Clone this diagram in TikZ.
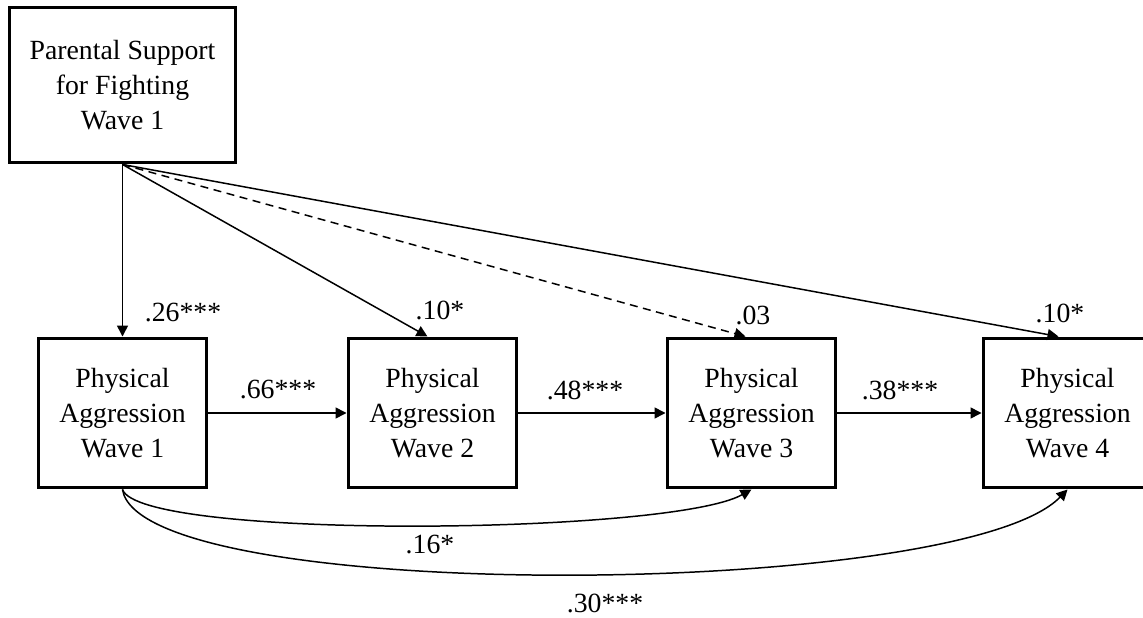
\documentclass[tikz,border=0pt]{standalone}
\usepackage{fontspec}
\setmainfont{Liberation Serif}
\usetikzlibrary{arrows.meta,calc}
\begin{document}
\begin{tikzpicture}[x=0.02cm,y=-0.02cm,
  box/.style={draw,line width=1.7pt,minimum width=3.38cm,minimum height=3.0cm,inner sep=0pt,align=center,font=\fontsize{15.8}{19.8}\selectfont},
  topbox/.style={box,minimum width=4.54cm,minimum height=3.12cm},
  conn/.style={line width=0.85pt,-{Triangle[length=2.2mm,width=2.2mm]}},
  lab/.style={font=\fontsize{15.8}{19.8}\selectfont,inner sep=0pt}]
\useasboundingbox (0,0) rectangle (1143,618);
\node[topbox] (top) at (122.5,85) {Parental Support\\for Fighting\\Wave 1};
\node[box] (pa1) at (122.5,413) {Physical\\Aggression\\Wave 1};
\node[box] (pa2) at (432.5,413) {Physical\\Aggression\\Wave 2};
\node[box] (pa3) at (751.5,413) {Physical\\Aggression\\Wave 3};
\node[box] (pa4) at (1067.5,413) {Physical\\Aggression\\Wave 4};
\coordinate (t2) at ($(pa2.north)+(-5,0)$);
\coordinate (t3) at ($(pa3.north)+(-6,0)$);
\coordinate (t4) at ($(pa4.north)+(-9,0)$);
\draw[conn] (top.south) -- (pa1.north);
\draw[conn] (top.south) -- (t2);
\draw[conn,dash pattern=on 1.6mm off 1.1mm] (top.south) -- (t3);
\draw[conn] (top.south) -- (t4);
\draw[conn] (pa1.east) -- (pa2.west);
\draw[conn] (pa2.east) -- (pa3.west);
\draw[conn] (pa3.east) -- (pa4.west);
\draw[conn] (pa1.south) .. controls (140,540) and (670,535) .. (pa3.south);
\draw[conn] (pa1.south) .. controls (140,605) and (960,600) .. (pa4.south);
\node[lab] (l1) at (183,313) {.26***};
\node[lab] (l2) at (440,310) {.10*};
\node[lab] (l3) at (753,315) {.03};
\node[lab] (l4) at (1060,313) {.10*};
\node[lab] (l5) at (278,390) {.66***};
\node[lab] (l6) at (585,390) {.48***};
\node[lab] (l7) at (900,390) {.38***};
\node[lab] (l8) at (430,545) {.16*};
\node[lab] (l9) at (605,603) {.30***};
\end{tikzpicture}
\end{document}
